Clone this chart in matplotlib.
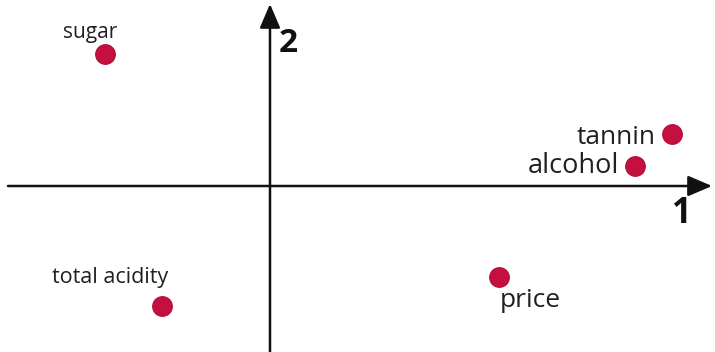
import matplotlib.pyplot as plt

# variables and their loadings on components 1 and 2
names = ["sugar", "tannin", "alcohol", "total acidity", "price"]
comp1 = [-1.65, 4.02, 3.65, -1.08, 2.29]
comp2 = [1.32, 0.52, 0.20, -1.20, -0.91]

# label placement relative to each point (data units), text size and alignment
label_dx = [-0.15, -0.16, -0.16, -0.52, 0.01]
label_dy = [0.16, -0.10, -0.07, 0.23, -0.30]
label_size = [15, 19, 19.5, 15.5, 19]
label_ha = ["center", "right", "right", "center", "left"]

plt.rcParams['font.family'] = ['Open Sans', 'DejaVu Sans']

fig = plt.figure(figsize=(7.15, 3.52), dpi=100)
ax = fig.add_axes([0, 0, 1, 1])
ax.set_xlim(-2.70, 4.45)
ax.set_ylim(-1.66, 1.86)
ax.axis('off')

# axes with arrow heads
arrow_kw = dict(arrowstyle='-|>,head_length=1.05,head_width=0.45', color='#111111',
                lw=1.8, shrinkA=0, shrinkB=0, mutation_scale=14)
ax.annotate('', xy=(4.42, 0), xytext=(-2.62, 0), arrowprops=arrow_kw)
ax.annotate('', xy=(0, 1.82), xytext=(0, -1.70), arrowprops=arrow_kw)

ax.text(4.12, -0.28, '1', fontsize=25, fontweight='bold', ha='center', va='center', color='#111111')
ax.text(0.18, 1.43, '2', fontsize=24, fontweight='bold', ha='center', va='center', color='#111111')

ax.scatter(comp1, comp2, s=200, color='#C5103F', edgecolors='#B00C38', linewidths=0.8, zorder=3)

for n, x, y, dx, dy, fs, ha in zip(names, comp1, comp2, label_dx, label_dy, label_size, label_ha):
    ax.text(x + dx, y + dy, n, fontsize=fs, color='#231F20', ha=ha, va='baseline')

fig.savefig('out.png', dpi=100)
